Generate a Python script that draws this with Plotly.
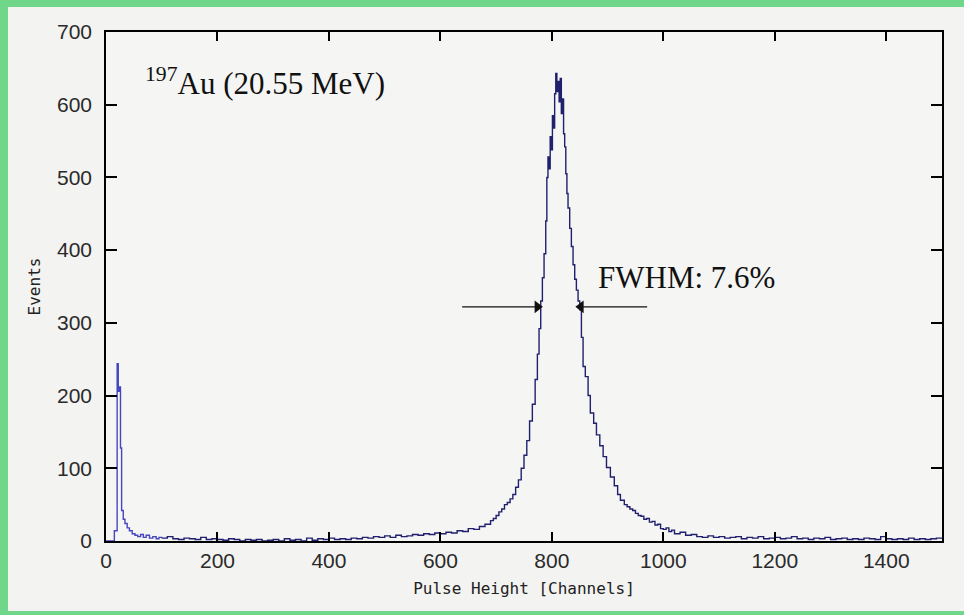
import plotly.graph_objects as go

# ---- data (channel start, counts) ----
low_channels = [0, 15, 20, 22, 24, 26, 28, 31, 34, 38, 42, 47, 52, 57, 62, 67, 72, 78, 84, 90, 95]
low_counts   = [0, 14, 244, 206, 212, 128, 42, 30, 24, 18, 14, 10, 8, 6, 9, 5, 8, 4, 6, 3, 5]

base_channels = [100, 110, 120, 130, 140, 150, 160, 170, 180, 190, 200, 210, 220, 230, 240, 250,
                 260, 270, 280, 290, 300, 310, 320, 330, 340, 350, 360, 370, 380, 390, 400, 410,
                 420, 430, 440, 450, 460, 470, 480, 490, 500, 510, 520, 530, 540, 550, 560, 570,
                 580, 590, 600, 610, 620, 630, 640, 650, 660, 670, 680, 690, 695]
base_counts   = [4, 6, 3, 2, 4, 3, 2, 5, 2, 3, 2, 1, 3, 2, 0, 2,
                 1, 2, 0, 1, 2, 0, 3, 1, 2, 0, 4, 1, 3, 2, 4, 2,
                 3, 2, 4, 3, 5, 4, 6, 5, 7, 5, 8, 6, 7, 9, 8, 10,
                 9, 11, 10, 12, 11, 14, 13, 17, 16, 20, 23, 28, 31]

peak_channels = [700, 705, 710, 715, 720, 725, 730, 735, 740, 745, 750, 755, 760, 765, 770, 774,
                 777, 780, 783, 786, 789, 791, 793, 795, 797, 799, 801, 803, 805, 807, 809, 811,
                 813, 815, 817, 819, 821, 823, 825, 827, 829, 832, 835, 838, 841, 844, 847, 850,
                 853, 856, 860, 865, 869, 875, 880, 886, 892, 898, 905, 912, 918, 923, 930, 935,
                 940, 945, 950, 955, 960, 965, 970, 975, 980, 985, 990, 995, 1000, 1005, 1010, 1015]
peak_counts   = [35, 40, 44, 50, 53, 58, 64, 74, 84, 100, 118, 138, 165, 188, 222, 257,
                 292, 330, 362, 395, 440, 500, 528, 512, 556, 538, 585, 568, 615, 643, 618, 632,
                 604, 636, 588, 608, 560, 542, 505, 478, 458, 430, 405, 380, 360, 345, 330, 318,
                 280, 240, 226, 200, 176, 162, 146, 131, 116, 101, 88, 76, 64, 56, 50, 47,
                 44, 42, 38, 35, 34, 30, 31, 26, 27, 22, 23, 17, 16, 18, 13, 15]

tail_channels = [1020, 1030, 1040, 1050, 1060, 1070, 1080, 1090, 1100, 1110, 1120, 1130, 1140,
                 1150, 1160, 1170, 1180, 1190, 1200, 1210, 1220, 1230, 1240, 1250, 1260, 1270,
                 1280, 1290, 1300, 1310, 1320, 1330, 1340, 1350, 1360, 1370, 1380, 1390, 1400,
                 1410, 1420, 1430, 1440, 1450, 1460, 1470, 1480, 1490, 1500]
tail_counts   = [10, 12, 8, 9, 6, 5, 7, 5, 6, 4, 5, 6, 3, 5, 4, 6, 3, 4, 5, 3, 4, 6, 3, 4, 2, 4,
                 3, 5, 2, 3, 4, 2, 3, 2, 4, 3, 2, 6, 3, 2, 3, 2, 4, 2, 3, 2, 3, 4, 4]

x_ticks = [0, 200, 400, 600, 800, 1000, 1200, 1400]
y_ticks = [0, 100, 200, 300, 400, 500, 600, 700]

title_text = "<sup>197</sup>Au (20.55 MeV)"
fwhm_text = "FWHM: 7.6%"
fwhm_level = 322
fwhm_left = [639, 779]    # tail, head
fwhm_right = [971, 847]   # tail, head

# ---- figure ----
W, H = 964, 615
L, R, T, B = 106, 22, 32, 74
pw, ph = W - L - R, H - T - B

main_x = base_channels + peak_channels + tail_channels
main_y = base_counts + peak_counts + tail_counts

fig = go.Figure()
fig.add_trace(go.Scatter(x=low_channels + [base_channels[0]], y=low_counts + [base_counts[0]],
                         mode="lines", line=dict(shape="hv", color="#4646c0", width=1.4),
                         showlegend=False, hoverinfo="skip"))
fig.add_trace(go.Scatter(x=main_x, y=main_y, mode="lines",
                         line=dict(shape="hv", color="#20206e", width=1.4),
                         showlegend=False))

# FWHM arrows: shaft + triangular head
for (tail, head), sym in ((fwhm_left, "triangle-right"), (fwhm_right, "triangle-left")):
    fig.add_trace(go.Scatter(x=[tail, head], y=[fwhm_level, fwhm_level], mode="lines",
                             line=dict(color="#111111", width=1.4), showlegend=False,
                             hoverinfo="skip"))
    off = -5 if sym == "triangle-right" else 5
    fig.add_trace(go.Scatter(x=[head + off], y=[fwhm_level], mode="markers",
                             marker=dict(symbol=sym, size=11, color="#111111"),
                             showlegend=False, hoverinfo="skip"))

tick_font = dict(family="Liberation Sans, Arial, sans-serif", size=21, color="#2a2a2a")
title_font = dict(family="DejaVu Sans Mono, monospace", size=16, color="#222222")

fig.update_xaxes(range=[0, 1500], tickvals=x_ticks, ticks="inside", ticklen=9, tickwidth=1.5,
                 tickcolor="black", showline=True, linecolor="black", linewidth=1.5, mirror="ticks",
                 showgrid=False, zeroline=False, tickfont=tick_font,
                 title=dict(text="Pulse Height [Channels]", font=title_font, standoff=12))
fig.update_yaxes(range=[0, 700], tickvals=y_ticks, ticks="inside", ticklen=11, tickwidth=1.5,
                 tickcolor="black", showline=True, linecolor="black", linewidth=1.5, mirror="ticks",
                 showgrid=False, zeroline=False, tickfont=tick_font, ticklabelstandoff=8,
                 title=dict(text="Events", font=title_font, standoff=12))

serif = dict(family="Liberation Serif, Times New Roman, serif", size=31, color="#111111")
fig.add_annotation(x=66, y=632, xref="x", yref="y", text=title_text, showarrow=False,
                   xanchor="left", yanchor="middle", font=serif)
fig.add_annotation(x=880, y=363, xref="x", yref="y", text=fwhm_text, showarrow=False,
                   xanchor="left", yanchor="middle", font=serif)

# green frame strips (top, left, bottom) around the light grey page
green = "#6fd68a"
def px_rect(x0, x1, y0, y1):
    fig.add_shape(type="rect", xref="paper", yref="paper", layer="below",
                  x0=(x0 - L) / pw, x1=(x1 - L) / pw,
                  y0=(H - B - y1) / ph, y1=(H - B - y0) / ph,
                  fillcolor=green, line=dict(width=0))
px_rect(-10, W + 10, -10, 7)      # top
px_rect(-10, 8, -10, H + 10)      # left
px_rect(-10, W + 10, 611, H + 10)  # bottom

fig.update_layout(width=W, height=H, margin=dict(l=L, r=R, t=T, b=B),
                  paper_bgcolor="#f3f3f1", plot_bgcolor="#f5f5f3")

fig.write_html("out.html")
